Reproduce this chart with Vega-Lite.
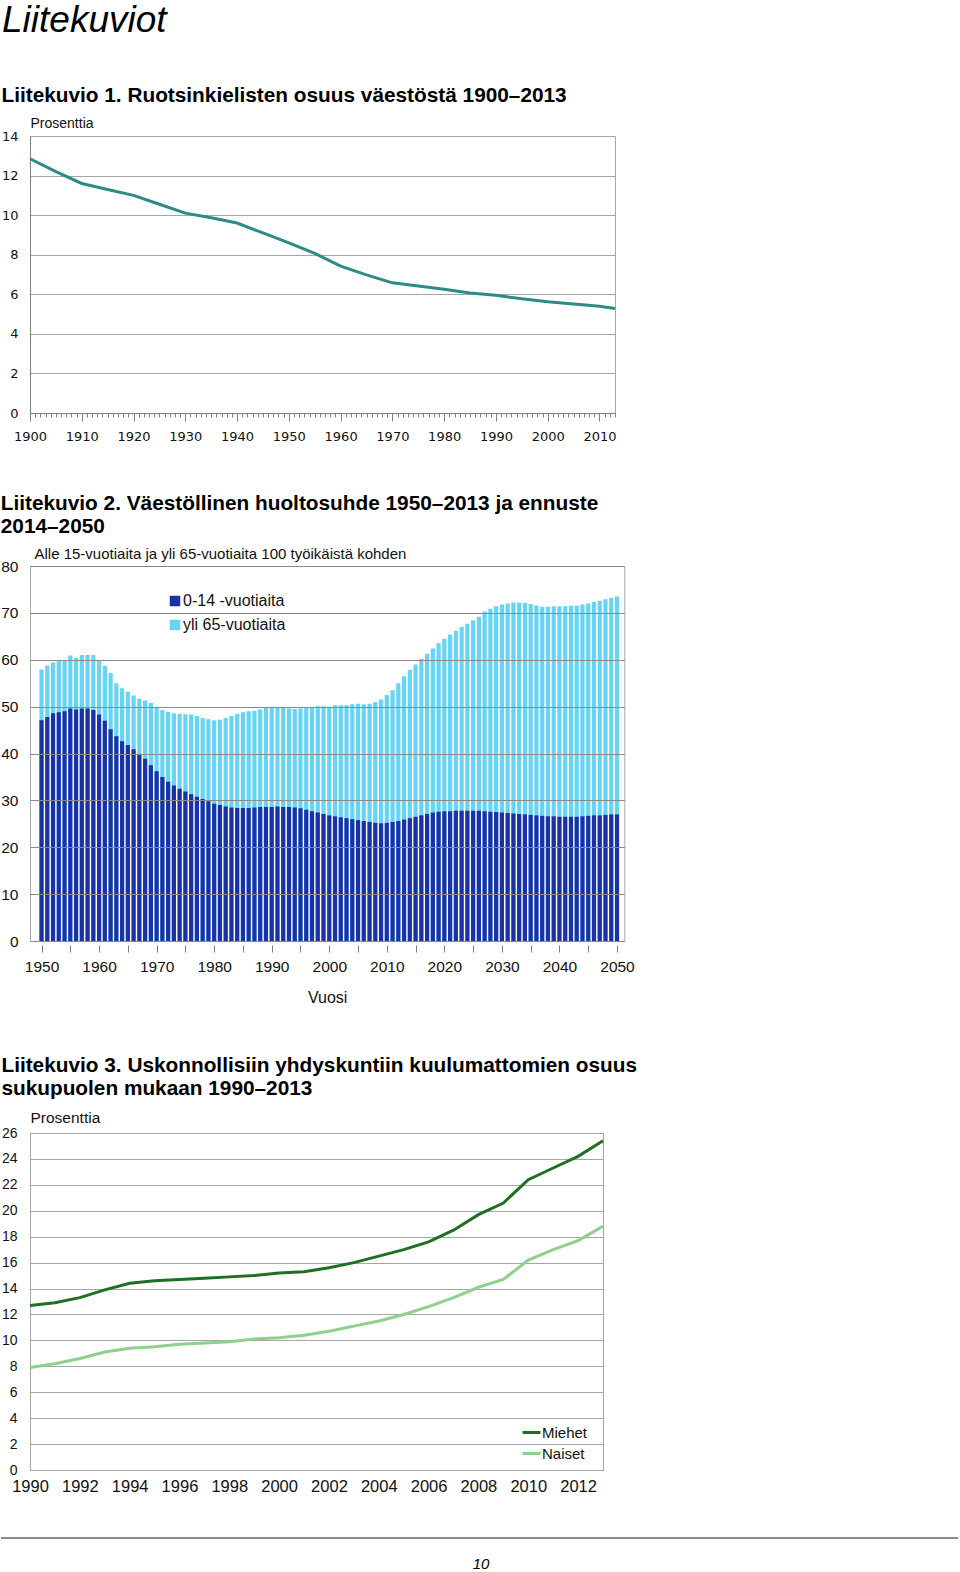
{
  "$schema": "https://vega.github.io/schema/vega-lite/v6.json",
  "background": "white",
  "padding": {"left": 0, "top": 2, "right": 0, "bottom": 0},
  "title": {"text": "Liitekuviot", "font": "Liberation Sans", "fontSize": 37, "fontStyle": "italic", "fontWeight": "normal", "anchor": "start", "frame": "bounds", "color": "#000000", "offset": 44, "dx": 2},
  "config": {
    "view": {"stroke": "#a6a6a6", "strokeWidth": 1},
    "axis": {"labelColor": "#111111", "titleColor": "#111111", "domainColor": "#808080", "gridColor": "#a6a6a6", "ticks": false, "labelOverlap": false},
    "title": {"anchor": "start", "frame": "bounds", "font": "Liberation Sans", "fontSize": 20.8, "fontWeight": "bold", "color": "#000000", "lineHeight": 23.5, "offset": 8}
  },
  "concat": [
    {
      "concat": [
        {
          "width": 585,
          "height": 277,
          "title": {"text": "Liitekuvio 1. Ruotsinkielisten osuus väestöstä 1900–2013", "offset": 9.7},
          "data": {"values": [
            {"year": 1900, "pct": 12.85}, {"year": 1905, "pct": 12.2}, {"year": 1910, "pct": 11.6}, {"year": 1915, "pct": 11.3},
            {"year": 1920, "pct": 11.0}, {"year": 1925, "pct": 10.55}, {"year": 1930, "pct": 10.1}, {"year": 1935, "pct": 9.87},
            {"year": 1940, "pct": 9.6}, {"year": 1945, "pct": 9.1}, {"year": 1950, "pct": 8.6}, {"year": 1955, "pct": 8.07},
            {"year": 1960, "pct": 7.42}, {"year": 1965, "pct": 6.98}, {"year": 1970, "pct": 6.58}, {"year": 1975, "pct": 6.42},
            {"year": 1980, "pct": 6.25}, {"year": 1985, "pct": 6.07}, {"year": 1990, "pct": 5.95}, {"year": 1995, "pct": 5.77},
            {"year": 2000, "pct": 5.62}, {"year": 2005, "pct": 5.51}, {"year": 2010, "pct": 5.4}, {"year": 2013, "pct": 5.28}
          ]},
          "resolve": {"axis": {"x": "independent"}},
          "layer": [
            {
              "mark": {"type": "line", "color": "#2e8a84", "strokeWidth": 3},
              "encoding": {
                "x": {"field": "year", "type": "quantitative", "scale": {"domain": [1900, 2013], "nice": false, "zero": false},
                  "axis": {"orient": "bottom", "values": [1900, 1910, 1920, 1930, 1940, 1950, 1960, 1970, 1980, 1990, 2000, 2010], "format": "d", "ticks": true, "tickSize": 8, "tickColor": "#808080", "grid": false, "labelFont": "DejaVu Sans", "labelFontSize": 13, "labelPadding": 9, "labelFlush": false, "title": null}},
                "y": {"field": "pct", "type": "quantitative", "scale": {"domain": [0, 14], "nice": false},
                  "axis": {"values": [0, 2, 4, 6, 8, 10, 12, 14], "grid": true, "labelFont": "DejaVu Sans", "labelFontSize": 13, "labelPadding": 12,
                    "title": "Prosenttia", "titleAngle": 0, "titleAlign": "left", "titleBaseline": "alphabetic", "titleX": 0, "titleY": -9, "titleFont": "Liberation Sans", "titleFontSize": 14, "titleFontWeight": "normal"}}
              }
            },
            {
              "mark": {"type": "point", "opacity": 0},
              "encoding": {
                "x": {"field": "year", "type": "quantitative",
                  "axis": {"orient": "bottom", "values": [1900,1901,1902,1903,1904,1905,1906,1907,1908,1909,1910,1911,1912,1913,1914,1915,1916,1917,1918,1919,1920,1921,1922,1923,1924,1925,1926,1927,1928,1929,1930,1931,1932,1933,1934,1935,1936,1937,1938,1939,1940,1941,1942,1943,1944,1945,1946,1947,1948,1949,1950,1951,1952,1953,1954,1955,1956,1957,1958,1959,1960,1961,1962,1963,1964,1965,1966,1967,1968,1969,1970,1971,1972,1973,1974,1975,1976,1977,1978,1979,1980,1981,1982,1983,1984,1985,1986,1987,1988,1989,1990,1991,1992,1993,1994,1995,1996,1997,1998,1999,2000,2001,2002,2003,2004,2005,2006,2007,2008,2009,2010,2011,2012,2013], "ticks": true, "tickSize": 4, "tickColor": "#808080", "labels": false, "domain": false, "grid": false, "title": null}}
              }
            }
          ]
        },
        {
          "width": 594.3,
          "height": 375,
          "title": {"text": ["Liitekuvio 2. Väestöllinen huoltosuhde 1950–2013 ja ennuste", "2014–2050"], "offset": 8},
          "data": {"values": [
            {"year":1950,"total":57.9,"young":47.1},{"year":1951,"total":58.8,"young":47.8},{"year":1952,"total":59.4,"young":48.6},{"year":1953,"total":59.8,"young":48.8},{"year":1954,"total":59.9,"young":49.0},
            {"year":1955,"total":60.9,"young":49.6},{"year":1956,"total":60.4,"young":49.4},{"year":1957,"total":61.0,"young":49.6},{"year":1958,"total":61.0,"young":49.6},{"year":1959,"total":61.0,"young":49.3},
            {"year":1960,"total":59.8,"young":48.3},{"year":1961,"total":58.7,"young":47.0},{"year":1962,"total":57.2,"young":45.2},{"year":1963,"total":55.0,"young":43.7},{"year":1964,"total":53.9,"young":42.6},
            {"year":1965,"total":53.2,"young":41.8},{"year":1966,"total":52.4,"young":40.9},{"year":1967,"total":51.7,"young":39.9},{"year":1968,"total":51.3,"young":38.9},{"year":1969,"total":50.8,"young":37.5},
            {"year":1970,"total":50.0,"young":36.2},{"year":1971,"total":49.3,"young":35.0},{"year":1972,"total":48.9,"young":34.0},{"year":1973,"total":48.6,"young":33.2},{"year":1974,"total":48.5,"young":32.5},
            {"year":1975,"total":48.4,"young":31.9},{"year":1976,"total":48.3,"young":31.3},{"year":1977,"total":48.0,"young":30.8},{"year":1978,"total":47.6,"young":30.3},{"year":1979,"total":47.3,"young":29.8},
            {"year":1980,"total":47.1,"young":29.3},{"year":1981,"total":47.2,"young":29.0},{"year":1982,"total":47.6,"young":28.7},{"year":1983,"total":48.0,"young":28.5},{"year":1984,"total":48.5,"young":28.4},
            {"year":1985,"total":48.8,"young":28.4},{"year":1986,"total":49.0,"young":28.4},{"year":1987,"total":49.1,"young":28.5},{"year":1988,"total":49.4,"young":28.6},{"year":1989,"total":49.8,"young":28.6},
            {"year":1990,"total":50.0,"young":28.6},{"year":1991,"total":49.9,"young":28.7},{"year":1992,"total":49.8,"young":28.6},{"year":1993,"total":49.6,"young":28.6},{"year":1994,"total":49.5,"young":28.5},
            {"year":1995,"total":49.6,"young":28.3},{"year":1996,"total":49.7,"young":28.0},{"year":1997,"total":49.9,"young":27.7},{"year":1998,"total":50.1,"young":27.4},{"year":1999,"total":50.1,"young":27.1},
            {"year":2000,"total":50.0,"young":26.8},{"year":2001,"total":50.3,"young":26.6},{"year":2002,"total":50.3,"young":26.4},{"year":2003,"total":50.3,"young":26.2},{"year":2004,"total":50.5,"young":26.0},
            {"year":2005,"total":50.6,"young":25.8},{"year":2006,"total":50.5,"young":25.6},{"year":2007,"total":50.6,"young":25.4},{"year":2008,"total":51.0,"young":25.2},{"year":2009,"total":51.5,"young":25.1},
            {"year":2010,"total":52.5,"young":25.2},{"year":2011,"total":53.5,"young":25.4},{"year":2012,"total":55.0,"young":25.6},{"year":2013,"total":56.5,"young":25.9},{"year":2014,"total":57.8,"young":26.2},
            {"year":2015,"total":59.0,"young":26.5},{"year":2016,"total":60.2,"young":26.8},{"year":2017,"total":61.3,"young":27.1},{"year":2018,"total":62.4,"young":27.4},{"year":2019,"total":63.5,"young":27.6},
            {"year":2020,"total":64.5,"young":27.7},{"year":2021,"total":65.4,"young":27.7},{"year":2022,"total":66.2,"young":27.8},{"year":2023,"total":67.0,"young":27.8},{"year":2024,"total":67.7,"young":27.8},
            {"year":2025,"total":68.4,"young":27.8},{"year":2026,"total":69.2,"young":27.8},{"year":2027,"total":70.3,"young":27.7},{"year":2028,"total":70.9,"young":27.6},{"year":2029,"total":71.4,"young":27.5},
            {"year":2030,"total":71.8,"young":27.4},{"year":2031,"total":72.0,"young":27.3},{"year":2032,"total":72.2,"young":27.2},{"year":2033,"total":72.2,"young":27.1},{"year":2034,"total":72.1,"young":27.0},
            {"year":2035,"total":71.9,"young":26.9},{"year":2036,"total":71.6,"young":26.8},{"year":2037,"total":71.3,"young":26.7},{"year":2038,"total":71.3,"young":26.6},{"year":2039,"total":71.4,"young":26.6},
            {"year":2040,"total":71.4,"young":26.5},{"year":2041,"total":71.4,"young":26.5},{"year":2042,"total":71.5,"young":26.5},{"year":2043,"total":71.6,"young":26.5},{"year":2044,"total":71.8,"young":26.6},
            {"year":2045,"total":72.0,"young":26.7},{"year":2046,"total":72.3,"young":26.8},{"year":2047,"total":72.6,"young":26.8},{"year":2048,"total":72.9,"young":26.9},{"year":2049,"total":73.2,"young":27.0},
            {"year":2050,"total":73.5,"young":27.0}
          ]},
          "encoding": {
            "x": {"field": "year", "type": "quantitative", "scale": {"domain": [1948.865, 2050.4], "nice": false, "zero": false},
              "axis": {"values": [1950,1955,1960,1965,1970,1975,1980,1985,1990,1995,2000,2005,2010,2015,2020,2025,2030,2035,2040,2045,2050], "labelExpr": "datum.value % 10 === 0 ? datum.label : ''", "format": "d", "ticks": true, "tickSize": 7, "tickColor": "#808080", "domain": false, "offset": 4, "grid": false, "labelFont": "Liberation Sans", "labelFontSize": 15.5, "labelPadding": 7, "labelFlush": false,
                "title": "Vuosi", "titleFont": "Liberation Sans", "titleFontSize": 16, "titleFontWeight": "normal", "titlePadding": 15}}
          },
          "layer": [
            {
              "mark": {"type": "bar", "width": 4.2},
              "encoding": {
                "y": {"field": "total", "type": "quantitative", "scale": {"domain": [0, 80], "nice": false},
                  "axis": {"values": [0,10,20,30,40,50,60,70,80], "grid": true, "gridColor": "#8a8a8a", "zindex": 1, "domain": false, "labelFont": "Liberation Sans", "labelFontSize": 15.5, "labelPadding": 12,
                    "title": "Alle 15-vuotiaita ja yli 65-vuotiaita 100 työikäistä kohden", "titleAngle": 0, "titleAlign": "left", "titleBaseline": "alphabetic", "titleX": 4, "titleY": -8, "titleFont": "Liberation Sans", "titleFontSize": 15, "titleFontWeight": "normal"}},
                "color": {"datum": "yli 65-vuotiaita", "type": "nominal",
                  "scale": {"domain": ["0-14 -vuotiaita", "yli 65-vuotiaita"], "range": ["#1b31a8", "#66d4f2"]},
                  "legend": {"orient": "none", "legendX": 137, "legendY": 27, "title": null, "symbolType": "square", "symbolSize": 110, "symbolStrokeWidth": 0, "labelFont": "Liberation Sans", "labelFontSize": 16, "labelColor": "#111111", "labelOffset": 0, "rowPadding": 8, "padding": 0}}
              }
            },
            {
              "mark": {"type": "bar", "width": 4.2},
              "encoding": {
                "y": {"field": "young", "type": "quantitative"},
                "color": {"datum": "0-14 -vuotiaita", "type": "nominal"}
              }
            }
          ]
        },
        {
          "width": 573,
          "height": 337,
          "title": {"text": ["Liitekuvio 3. Uskonnollisiin yhdyskuntiin kuulumattomien osuus", "sukupuolen mukaan 1990–2013"], "offset": 10},
          "data": {"values": [
            {"year":1990,"sex":"Miehet","pct":12.7},{"year":1991,"sex":"Miehet","pct":12.9},{"year":1992,"sex":"Miehet","pct":13.3},{"year":1993,"sex":"Miehet","pct":13.9},
            {"year":1994,"sex":"Miehet","pct":14.4},{"year":1995,"sex":"Miehet","pct":14.6},{"year":1996,"sex":"Miehet","pct":14.7},{"year":1997,"sex":"Miehet","pct":14.8},
            {"year":1998,"sex":"Miehet","pct":14.9},{"year":1999,"sex":"Miehet","pct":15.0},{"year":2000,"sex":"Miehet","pct":15.2},{"year":2001,"sex":"Miehet","pct":15.3},
            {"year":2002,"sex":"Miehet","pct":15.6},{"year":2003,"sex":"Miehet","pct":16.0},{"year":2004,"sex":"Miehet","pct":16.5},{"year":2005,"sex":"Miehet","pct":17.0},
            {"year":2006,"sex":"Miehet","pct":17.6},{"year":2007,"sex":"Miehet","pct":18.5},{"year":2008,"sex":"Miehet","pct":19.7},{"year":2009,"sex":"Miehet","pct":20.6},
            {"year":2010,"sex":"Miehet","pct":22.4},{"year":2011,"sex":"Miehet","pct":23.3},{"year":2012,"sex":"Miehet","pct":24.2},{"year":2013,"sex":"Miehet","pct":25.4},
            {"year":1990,"sex":"Naiset","pct":7.9},{"year":1991,"sex":"Naiset","pct":8.2},{"year":1992,"sex":"Naiset","pct":8.6},{"year":1993,"sex":"Naiset","pct":9.1},
            {"year":1994,"sex":"Naiset","pct":9.4},{"year":1995,"sex":"Naiset","pct":9.5},{"year":1996,"sex":"Naiset","pct":9.7},{"year":1997,"sex":"Naiset","pct":9.8},
            {"year":1998,"sex":"Naiset","pct":9.9},{"year":1999,"sex":"Naiset","pct":10.1},{"year":2000,"sex":"Naiset","pct":10.2},{"year":2001,"sex":"Naiset","pct":10.4},
            {"year":2002,"sex":"Naiset","pct":10.7},{"year":2003,"sex":"Naiset","pct":11.1},{"year":2004,"sex":"Naiset","pct":11.5},{"year":2005,"sex":"Naiset","pct":12.0},
            {"year":2006,"sex":"Naiset","pct":12.6},{"year":2007,"sex":"Naiset","pct":13.3},{"year":2008,"sex":"Naiset","pct":14.1},{"year":2009,"sex":"Naiset","pct":14.7},
            {"year":2010,"sex":"Naiset","pct":16.2},{"year":2011,"sex":"Naiset","pct":17.0},{"year":2012,"sex":"Naiset","pct":17.7},{"year":2013,"sex":"Naiset","pct":18.8}
          ]},
          "mark": {"type": "line", "strokeWidth": 3},
          "encoding": {
            "x": {"field": "year", "type": "quantitative", "scale": {"domain": [1990, 2013], "nice": false, "zero": false},
              "axis": {"values": [1990,1992,1994,1996,1998,2000,2002,2004,2006,2008,2010,2012], "format": "d", "ticks": false, "grid": false, "domainColor": "#a6a6a6", "labelFont": "Liberation Sans", "labelFontSize": 16.5, "labelPadding": 8, "labelFlush": false, "title": null}},
            "y": {"field": "pct", "type": "quantitative", "scale": {"domain": [0, 26], "nice": false},
              "axis": {"values": [0,2,4,6,8,10,12,14,16,18,20,22,24,26], "grid": true, "domain": true, "domainColor": "#a6a6a6", "labelFont": "Liberation Sans", "labelFontSize": 14, "labelPadding": 13,
                "title": "Prosenttia", "titleAngle": 0, "titleAlign": "left", "titleBaseline": "alphabetic", "titleX": 0, "titleY": -11, "titleFont": "Liberation Sans", "titleFontSize": 15.5, "titleFontWeight": "normal"}},
            "color": {"field": "sex", "type": "nominal", "scale": {"domain": ["Miehet", "Naiset"], "range": ["#1f6e24", "#8ed08e"]},
              "legend": {"orient": "none", "legendX": 491, "legendY": 289, "title": null, "symbolType": "stroke", "symbolSize": 324, "symbolStrokeWidth": 3, "labelFont": "Liberation Sans", "labelFontSize": 15, "labelColor": "#111111", "labelOffset": 0, "rowPadding": 2, "padding": 0}}
          }
        }
      ],
      "columns": 1,
      "spacing": 48,
      "resolve": {"scale": {"color": "independent"}, "legend": {"color": "independent"}}
    },
    {
      "width": 928,
      "height": 26,
      "view": {"stroke": null},
      "data": {"values": [{"page": "10"}]},
      "layer": [
        {
          "mark": {"type": "rule", "color": "#8c8c8c", "strokeWidth": 2},
          "encoding": {
            "x": {"datum": -0.03125, "type": "quantitative", "scale": {"domain": [0, 1], "nice": false, "zero": false}, "axis": null},
            "x2": {"datum": 1},
            "y": {"datum": 1, "type": "quantitative", "scale": {"domain": [0, 1], "nice": false}, "axis": null}
          }
        },
        {
          "mark": {"type": "text", "font": "Liberation Sans", "fontStyle": "italic", "fontSize": 15, "baseline": "middle", "color": "#000000"},
          "encoding": {
            "text": {"field": "page"},
            "x": {"datum": 0.486, "type": "quantitative"},
            "y": {"datum": 0, "type": "quantitative"}
          }
        }
      ]
    }
  ],
  "columns": 1,
  "spacing": 42,
  "resolve": {"scale": {"color": "independent"}, "legend": {"color": "independent"}}
}
